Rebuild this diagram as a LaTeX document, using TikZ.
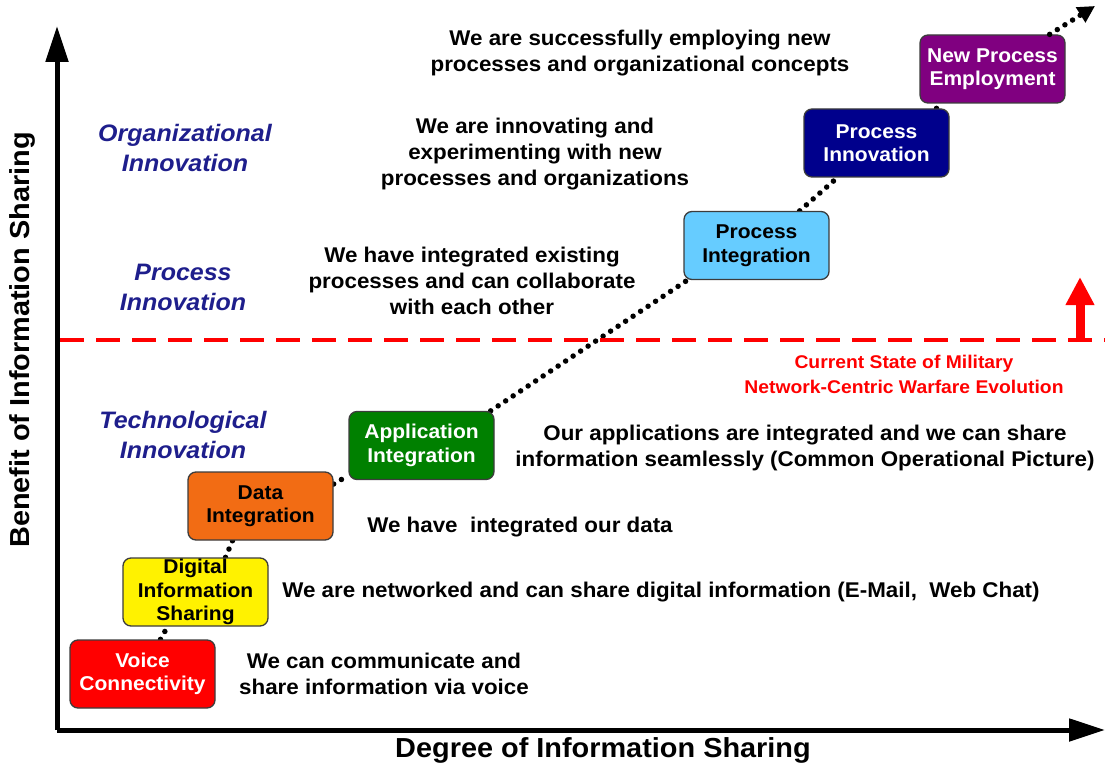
\documentclass[tikz,border=0pt]{standalone}
\usepackage{fontspec}
\setmainfont{Liberation Sans}[FakeStretch=1.05]
\usetikzlibrary{arrows.meta,backgrounds}
\definecolor{lblue}{RGB}{30,30,140}
\definecolor{orng}{RGB}{242,108,20}
\definecolor{skyb}{RGB}{102,204,255}
\definecolor{grn}{RGB}{0,128,0}
\definecolor{navyb}{RGB}{0,0,140}
\definecolor{purp}{RGB}{128,0,128}
\definecolor{bord}{RGB}{60,60,60}
\tikzset{
  stage/.style={draw=bord, line width=1.3pt, rounded corners=8pt, minimum width=145pt, minimum height=68pt,
    align=center, font=\fontsize{20}{23.5}\selectfont\bfseries, inner sep=0pt},
  desc/.style={align=center, font=\fontsize{21.3}{26}\selectfont\bfseries, inner sep=0pt},
  lvl/.style={align=center, text=lblue, font=\fontsize{23.8}{30}\selectfont\bfseries\itshape, inner sep=0pt},
  axis/.style={line width=5pt, -{Triangle[length=36pt,width=22pt]}},
  dotline/.style={line width=5.5pt, line cap=round, dash pattern=on 0pt off 9pt},
  redtxt/.style={align=center, text=red, font=\fontsize{18.4}{25}\selectfont\bfseries, inner sep=0pt},
  axlabel/.style={font=\fontsize{27.5}{30}\selectfont\bfseries, inner sep=0pt}
}
\begin{document}
\begin{tikzpicture}[x=1pt,y=-1pt]
\useasboundingbox (0,0) rectangle (1105,770);
% axes
\coordinate (origin) at (57,730);
\coordinate (ytop) at (57,26);
\coordinate (xend) at (1105,730);
\draw[axis] (origin) -- (ytop);
\draw[axis] (origin) -- (xend);
\node[axlabel, rotate=90] (ylab) at (22,340) {Benefit of Information Sharing};
\node[axlabel] (xlab) at (603,750) {Degree of Information Sharing};

% red current state line
\coordinate (rl) at (60,340);
\coordinate (rr) at (1105,340);
\draw[red, line width=4pt, dash pattern=on 24pt off 12pt] (rl) -- (rr);
\coordinate (ra) at (1080,342);
\coordinate (rb) at (1080,277);
\draw[red, line width=9pt, -{Triangle[length=28pt,width=27pt]}] (ra) -- (rb);
\node[redtxt] (cur) at (904,374) {Current State of Military\\Network-Centric Warfare Evolution};

% level labels
\node[lvl] (org) at (185,148) {Organizational\\Innovation};
\node[lvl] (proc) at (183,287) {Process\\Innovation};
\node[lvl] (tech) at (183,435) {Technological\\Innovation};

% stages
\node[stage, fill=red, text=white] (voice) at (142.5,674) {Voice\\Connectivity};
\node[stage, fill=yellow] (digital) at (195.5,592) {Digital\\Information\\Sharing};
\node[stage, fill=orng] (data) at (260.5,506) {Data\\Integration};
\node[stage, fill=grn, text=white] (app) at (421.5,445.5) {Application\\Integration};
\node[stage, fill=skyb] (pi) at (756.5,245.5) {Process\\Integration};
\node[stage, fill=navyb, text=white] (pinn) at (876.5,143) {Process\\Innovation};
\node[stage, fill=purp, text=white] (npe) at (992.5,69) {New Process\\Employment};
\coordinate (tip) at (1095,6);

\begin{scope}[on background layer]
\draw[dotline] ([xshift=18pt]voice.north) -- ([xshift=-28pt]digital.south);
\draw[dotline] ([xshift=30pt]digital.north) -- ([xshift=-28pt]data.south);
\draw[dotline] ([yshift=22pt]data.east) -- ([yshift=-30pt]app.west);
\draw[dotline] ([xshift=-4pt]app.north east) -- ([xshift=4pt]pi.south west);
\draw[dotline] ([xshift=-30pt]pi.north east) -- ([xshift=34pt]pinn.south west);
\draw[dotline] ([xshift=60pt]pinn.north) -- ([xshift=-55pt]npe.south);
\end{scope}
\draw[dotline, -{Triangle[length=17pt,width=17pt]}] ([xshift=-16pt]npe.north east) -- (tip);

% descriptions
\node[desc] (d7) at (640,53) {We are successfully employing new\\processes and organizational concepts};
\node[desc] (d6) at (535,154) {We are innovating and\\experimenting with new\\processes and organizations};
\node[desc] (d5) at (472,281) {We have integrated existing\\processes and can collaborate\\with each other};
\node[desc] (d4) at (805,448) {Our applications are integrated and we can share\\information seamlessly (Common Operational Picture)};
\node[desc] (d3) at (520,527) {We have\ \ integrated our data};
\node[desc] (d2) at (661,592) {We are networked and can share digital information (E-Mail,\ \ Web Chat)};
\node[desc] (d1) at (384,674) {We can communicate and\\share information via voice};
\end{tikzpicture}
\end{document}
